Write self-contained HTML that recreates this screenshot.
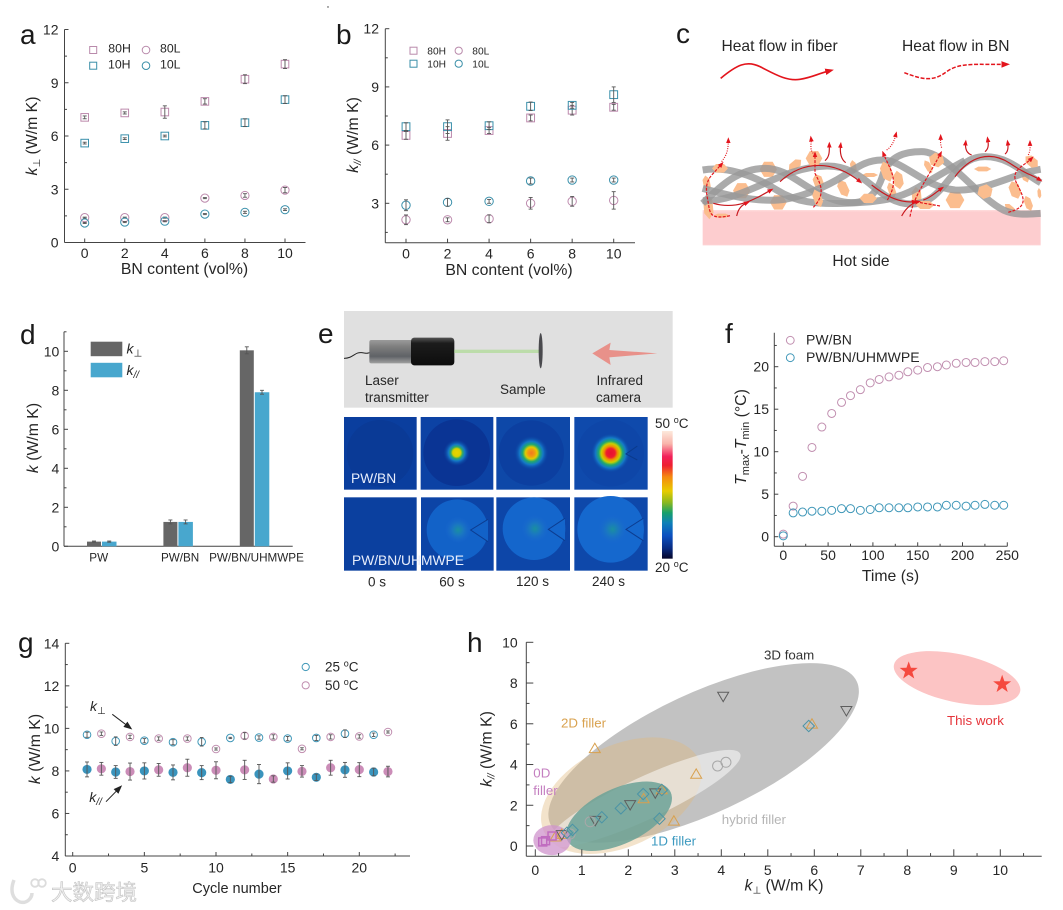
<!DOCTYPE html>
<html lang="en">
<head>
<meta charset="utf-8">
<title>Thermal conductivity composite figure</title>
<style>
html,body{margin:0;padding:0;background:#fff;}
svg{display:block;filter:blur(.35px);}
text{font-family:"Liberation Sans","DejaVu Sans","Noto Sans CJK SC",sans-serif;fill:#262626;}
.pl{font-size:28px;fill:#1a1a1a;}
.t{font-size:15.8px;}
.s{font-size:13.5px;}
.h{font-size:12px;}
</style>
</head>
<body>
<svg id="fig" xmlns="http://www.w3.org/2000/svg" width="1063" height="910" viewBox="0 0 1063 910">
<defs>
<marker id="ah" markerUnits="userSpaceOnUse" markerWidth="26" markerHeight="24" viewBox="0 0 26 24" refX="14" refY="12" orient="auto"><path d="M0 2 L26 12 L0 22 Z" fill="#e3141c"/></marker>
<marker id="ahs" markerUnits="userSpaceOnUse" markerWidth="18" markerHeight="18" viewBox="0 0 26 24" refX="14" refY="12" orient="auto"><path d="M0 2 L26 12 L0 22 Z" fill="#e3141c"/></marker>
<marker id="blk" markerUnits="userSpaceOnUse" markerWidth="9" markerHeight="8" viewBox="0 0 26 24" refX="20" refY="12" orient="auto"><path d="M0 2 L26 12 L0 22 Z" fill="#222"/></marker>
<linearGradient id="hotg" x1="0" y1="0" x2="0" y2="1"><stop offset="0" stop-color="#fdd" /><stop offset=".06" stop-color="#fdcdcf"/><stop offset=".96" stop-color="#fdcdcf"/><stop offset="1" stop-color="#fff"/></linearGradient>
<linearGradient id="cyl" x1="0" y1="0" x2="0" y2="1"><stop offset="0" stop-color="#9a9a9a"/><stop offset=".3" stop-color="#7d7d7d"/><stop offset=".7" stop-color="#5f6266"/><stop offset="1" stop-color="#a0a0a0"/></linearGradient>
<linearGradient id="blkc" x1="0" y1="0" x2="0" y2="1"><stop offset="0" stop-color="#555"/><stop offset=".2" stop-color="#1c1c1c"/><stop offset="1" stop-color="#0d0d0d"/></linearGradient>
<linearGradient id="cbar" x1="0" y1="0" x2="0" y2="1">
<stop offset="0" stop-color="#fde9dc"/><stop offset=".1" stop-color="#f9b5ab"/><stop offset=".2" stop-color="#f2205a"/><stop offset=".27" stop-color="#ee2030"/><stop offset=".36" stop-color="#f58a10"/><stop offset=".47" stop-color="#e8cc00"/><stop offset=".56" stop-color="#8ab820"/><stop offset=".64" stop-color="#18a06a"/><stop offset=".72" stop-color="#0f80b8"/><stop offset=".82" stop-color="#0c50c0"/><stop offset=".92" stop-color="#082a80"/><stop offset="1" stop-color="#050528"/>
</linearGradient>
<radialGradient id="sp60"><stop offset="0" stop-color="#e8d400"/><stop offset=".3" stop-color="#d8d000"/><stop offset=".44" stop-color="#30a868"/><stop offset=".62" stop-color="#1478c8"/><stop offset="1" stop-color="#0c40a0" stop-opacity="0"/></radialGradient>
<radialGradient id="sp120"><stop offset="0" stop-color="#f07820"/><stop offset=".2" stop-color="#f09a10"/><stop offset=".34" stop-color="#e0cc00"/><stop offset=".5" stop-color="#20a870"/><stop offset=".68" stop-color="#1478c8"/><stop offset="1" stop-color="#0c40a0" stop-opacity="0"/></radialGradient>
<radialGradient id="sp240"><stop offset="0" stop-color="#e81030"/><stop offset=".22" stop-color="#ee1c30"/><stop offset=".34" stop-color="#f09000"/><stop offset=".47" stop-color="#c8d000"/><stop offset=".6" stop-color="#20a870"/><stop offset=".76" stop-color="#1478c8"/><stop offset="1" stop-color="#0c40a0" stop-opacity="0"/></radialGradient>
<radialGradient id="sp2"><stop offset="0" stop-color="#1a8fa0"/><stop offset=".4" stop-color="#1a78c0"/><stop offset="1" stop-color="#1a66d0" stop-opacity="0"/></radialGradient>
<polygon id="hex" points="1,0 .5,.87 -.5,.87 -1,0 -.5,-.87 .5,-.87"/>
</defs>

<rect width="1063" height="910" fill="#fff"/>
<circle cx="328" cy="7" r=".7" fill="#333"/>

<!-- panel letters -->
<g>
<text class="pl" x="20" y="44">a</text>
<text class="pl" x="336" y="44">b</text>
<text class="pl" x="676" y="43">c</text>
<text class="pl" x="20" y="344">d</text>
<text class="pl" x="318" y="343">e</text>
<text class="pl" x="725" y="343">f</text>
<text class="pl" x="18" y="652">g</text>
<text class="pl" x="467" y="652">h</text>
</g>

<!-- panel c schematic -->
<g>
<text class="t" x="721.5" y="51" style="font-size:15.6px">Heat flow in fiber</text>
<text class="t" x="902" y="51" style="font-size:15.6px">Heat flow in BN</text>
<text class="t" x="861" y="266" text-anchor="middle" style="font-size:15.6px">Hot side</text>
<g transform="translate(670,10) scale(.33333)">
<path d="M152 205 C200 165 230 150 270 170 S350 215 390 208 S440 192 480 182" fill="none" stroke="#e3141c" stroke-width="5" marker-end="url(#ah)"/>
<path d="M703 188 C760 210 790 215 830 185 S930 165 1008 163" fill="none" stroke="#e3141c" stroke-width="4.5" stroke-dasharray="12 5" marker-end="url(#ah)"/>
<rect x="98" y="600" width="1014" height="108" fill="url(#hotg)"/>
<g fill="#fbbd8e">
<use href="#hex" transform="translate(215,542) scale(26)"/>
<use href="#hex" transform="translate(325,577) scale(25)"/>
<use href="#hex" transform="translate(855,570) scale(28)"/>
<use href="#hex" transform="translate(295,478) scale(26)"/>
<use href="#hex" transform="translate(375,465) rotate(-40) scale(24,14)"/>
<use href="#hex" transform="translate(550,470) rotate(80) scale(20,10)"/>
<use href="#hex" transform="translate(520,535) rotate(65) scale(28,16)"/>
<use href="#hex" transform="translate(445,515) rotate(70) scale(24,16)"/>
<use href="#hex" transform="translate(600,495) scale(24,7)"/>
<use href="#hex" transform="translate(685,510) rotate(80) scale(28,16)"/>
<use href="#hex" transform="translate(665,540) rotate(70) scale(24,12)"/>
<use href="#hex" transform="translate(740,560) rotate(85) scale(30,16)"/>
<use href="#hex" transform="translate(775,470) rotate(60) scale(22,10)"/>
<use href="#hex" transform="translate(938,477) scale(26,8)"/>
<use href="#hex" transform="translate(1065,495) rotate(70) scale(24,12)"/>
<use href="#hex" transform="translate(1075,580) rotate(70) scale(24,12)"/>
<use href="#hex" transform="translate(1020,595) rotate(40) scale(20,10)"/>
<use href="#hex" transform="translate(115,590) rotate(85) scale(38,16)"/>
<use href="#hex" transform="translate(110,520) rotate(80) scale(24,12)"/>
<use href="#hex" transform="translate(155,617) scale(24,7)"/>
<use href="#hex" transform="translate(1108,550) rotate(85) scale(16,6)"/>
</g>
<g fill="none" stroke="#999" stroke-width="21" stroke-opacity=".82">
<path d="M98 572 C220 578 330 470 470 468 C590 466 620 582 725 582 C830 582 840 440 945 440 C1020 440 1060 490 1112 518"/>
<path d="M98 480 C170 468 250 495 320 540 C380 578 440 582 515 580 C610 578 680 570 740 535 C800 500 850 470 885 452"/>
<path d="M98 535 C170 555 250 575 325 570 C390 565 470 530 525 495 C570 465 600 448 640 450 C700 452 760 530 855 540 C950 545 1030 490 1112 478"/>
<path d="M98 580 C140 540 200 475 285 475 C360 475 400 540 495 570 C580 595 620 560 640 490 C660 440 700 425 755 425 C830 425 920 560 1000 600 C1040 618 1080 612 1112 610"/>
</g>
<g fill="#fbbd8e">
<use href="#hex" transform="translate(432,445) scale(25)"/>
<use href="#hex" transform="translate(800,450) rotate(20) scale(24,22)"/>
<use href="#hex" transform="translate(945,545) rotate(-20) scale(24,22)"/>
<use href="#hex" transform="translate(1035,540) rotate(70) scale(28,18)"/>
<use href="#hex" transform="translate(1085,455) rotate(40) scale(24,16)"/>
<use href="#hex" transform="translate(443,565) rotate(70) scale(28,14)"/>
<use href="#hex" transform="translate(595,565) scale(26,16)"/>
<use href="#hex" transform="translate(150,475) scale(24,15)"/>
<use href="#hex" transform="translate(650,485) rotate(70) scale(32,18)"/>
<use href="#hex" transform="translate(765,585) scale(28,14)"/>
</g>
<g fill="none" stroke="#c8181e" stroke-width="3.5">
<path d="M130 580 C200 600 250 570 303 540" marker-end="url(#ahs)"/>
<path d="M330 515 C400 450 490 450 570 515" marker-end="url(#ahs)"/>
<path d="M605 525 C650 560 690 580 735 575" marker-end="url(#ahs)"/>
<path d="M760 570 C780 565 800 545 815 535" marker-end="url(#ahs)"/>
<path d="M855 500 C900 440 960 420 1020 460 S1080 490 1110 510" marker-end="url(#ahs)"/>
<path d="M695 618 C710 590 730 578 745 575" marker-end="url(#ahs)"/>
<path d="M200 618 C205 595 215 585 232 578" marker-end="url(#ahs)"/>
<path d="M465 452 C480 440 478 420 478 403" marker-end="url(#ahs)"/>
<path d="M527 458 C510 445 510 420 512 404" marker-end="url(#ahs)"/>
<path d="M905 435 C890 430 885 415 887 397" marker-end="url(#ahs)"/>
<path d="M945 425 C958 415 955 400 953 387" marker-end="url(#ahs)"/>
<path d="M1005 432 C1015 425 1015 410 1013 397" marker-end="url(#ahs)"/>
</g>
<g fill="none" stroke="#e3141c" stroke-width="3.5" stroke-dasharray="9 4">
<path d="M180 617 C120 630 120 610 115 580 S100 520 130 490 L155 462" marker-end="url(#ahs)"/>
<path d="M430 592 C470 550 450 520 435 490 L435 432" marker-end="url(#ahs)"/>
<path d="M652 570 C690 510 660 480 640 430" marker-end="url(#ahs)"/>
<path d="M810 588 L735 575"/>
<path d="M720 620 C730 560 770 510 812 430" marker-end="url(#ahs)"/>
<path d="M1015 607 C1080 590 1060 560 1040 520 S1060 470 1085 445" marker-end="url(#ahs)"/>
</g>
<g fill="none" stroke="#e3141c" stroke-width="3.5" stroke-dasharray="3 4">
<path d="M155 455 C165 440 175 430 175 390" marker-end="url(#ahs)"/>
<path d="M430 430 C418 420 425 400 423 385" marker-end="url(#ahs)"/>
<path d="M650 420 C665 410 672 395 678 372" marker-end="url(#ahs)"/>
<path d="M815 413 C810 400 812 392 812 380" marker-end="url(#ahs)"/>
<path d="M1075 435 C1082 420 1080 410 1080 398" marker-end="url(#ahs)"/>
</g>
</g>
</g>

<!-- panel e thermal images -->
<g>
<g transform="translate(330,300) scale(.33333)">
<rect x="42" y="33" width="986" height="290" fill="#e0e0e0"/>
<path d="M42 175 C70 175 75 155 95 158 S110 160 120 158" fill="none" stroke="#222" stroke-width="3"/>
<rect x="118" y="120" width="130" height="70" rx="6" fill="url(#cyl)"/>
<rect x="243" y="113" width="130" height="83" rx="10" fill="url(#blkc)"/>
<rect x="373" y="149" width="255" height="10" fill="#bcdcaa"/>
<ellipse cx="632" cy="152" rx="6" ry="53" fill="#4a4a4e"/>
<polygon points="787,160 842,128 838,150 982,160 838,172 842,195" fill="#e8918a"/>

<rect x="42" y="351" width="218" height="218" fill="#0a3e9e"/>
<circle cx="150" cy="460" r="100" fill="#0a3a96"/>
<rect x="272" y="351" width="218" height="218" fill="#0c42a4"/>
<circle cx="380" cy="458" r="100" fill="#0a3494"/>
<circle cx="380" cy="458" r="40" fill="url(#sp60)"/>
<rect x="499" y="351" width="221" height="218" fill="#0e48a8"/>
<circle cx="604" cy="459" r="98" fill="#0c3fa0"/>
<circle cx="604" cy="459" r="52" fill="url(#sp120)"/>
<rect x="733" y="351" width="220" height="218" fill="#0f4aac"/>
<circle cx="842" cy="459" r="100" fill="#0e46a8"/>
<circle cx="842" cy="459" r="60" fill="url(#sp240)"/>
<path d="M922 438 L888 462 L922 480" fill="none" stroke="#0a3a8c" stroke-width="3"/>

<rect x="42" y="592" width="218" height="220" fill="#0b409f"/>
<rect x="273" y="592" width="218" height="220" fill="#0c44a6"/>
<circle cx="382" cy="690" r="92" fill="#1262c8"/>
<circle cx="384" cy="690" r="40" fill="url(#sp2)"/>
<path d="M474 658 L422 690 L474 725" fill="#1262c8" stroke="#0c3c90" stroke-width="3"/>
<rect x="499" y="592" width="221" height="220" fill="#0d46a8"/>
<circle cx="612" cy="686" r="94" fill="#1466cc"/>
<circle cx="615" cy="686" r="42" fill="url(#sp2)"/>
<path d="M705 655 L655 688 L705 722" fill="#1466cc" stroke="#0c3c90" stroke-width="3"/>
<rect x="733" y="592" width="220" height="220" fill="#0e48aa"/>
<circle cx="842" cy="688" r="100" fill="#1568ce"/>
<circle cx="848" cy="688" r="45" fill="url(#sp2)"/>
<path d="M940 655 L888 688 L940 722" fill="#1568ce" stroke="#0c3c90" stroke-width="3"/>

<rect x="996" y="393" width="32" height="383" fill="url(#cbar)"/>
</g>
<text class="s" x="365" y="385">Laser</text>
<text class="s" x="365" y="402">transmitter</text>
<text class="s" x="500" y="394">Sample</text>
<text class="s" x="596.5" y="385">Infrared</text>
<text class="s" x="596" y="402">camera</text>
<text x="351" y="483" style="font-size:13.8px;fill:#e8eefc">PW/BN</text>
<text x="352" y="565" style="font-size:13.8px;fill:#e8eefc">PW/BN/UHMWPE</text>
<text x="377" y="586.5" text-anchor="middle" style="font-size:13.5px">0 s</text>
<text x="452" y="586.5" text-anchor="middle" style="font-size:13.5px">60 s</text>
<text x="532.5" y="586" text-anchor="middle" style="font-size:13.5px">120 s</text>
<text x="608.5" y="586" text-anchor="middle" style="font-size:13.5px">240 s</text>
<text x="655" y="428" style="font-size:13.5px">50 <tspan dy="-5" font-size="9">o</tspan><tspan dy="5">C</tspan></text>
<text x="655" y="572" style="font-size:13.5px">20 <tspan dy="-5" font-size="9">o</tspan><tspan dy="5">C</tspan></text>
</g>

<!-- chart layers populated by script -->
<g id="chart-a"></g>
<g id="chart-b"></g>
<g id="chart-d"></g>
<g id="chart-f"></g>
<g id="chart-g"></g>
<g id="chart-h"></g>

<!-- titles and static labels -->
<g>
<text class="t" x="184.5" y="274" text-anchor="middle">BN content (vol%)</text>
<text class="t" transform="translate(37,136) rotate(-90)" text-anchor="middle"><tspan font-style="italic">k</tspan><tspan dy="3" font-size="10">⊥</tspan><tspan dy="-3"> (W/m K)</tspan></text>
<text class="t" x="509" y="275" text-anchor="middle">BN content (vol%)</text>
<text class="t" transform="translate(358,135) rotate(-90)" text-anchor="middle"><tspan font-style="italic">k</tspan><tspan dy="3" font-size="10" font-style="italic">//</tspan><tspan dy="-3"> (W/m K)</tspan></text>
<text class="t" transform="translate(38,438) rotate(-90)" text-anchor="middle"><tspan font-style="italic">k</tspan> (W/m K)</text>
<text class="t" x="890.5" y="581" text-anchor="middle">Time (s)</text>
<text class="t" transform="translate(746,437) rotate(-90)" text-anchor="middle"><tspan font-style="italic">T</tspan><tspan dy="3" font-size="11">max</tspan><tspan dy="-3">-</tspan><tspan font-style="italic">T</tspan><tspan dy="3" font-size="11">min</tspan><tspan dy="-3"> (°C)</tspan></text>
<text class="t" x="237" y="893" text-anchor="middle" style="font-size:14.5px">Cycle number</text>
<text class="t" transform="translate(40,749) rotate(-90)" text-anchor="middle"><tspan font-style="italic">k</tspan> (W/m K)</text>
<text class="t" x="784" y="890.7" text-anchor="middle"><tspan font-style="italic">k</tspan><tspan dy="3" font-size="10">⊥</tspan><tspan dy="-3"> (W/m K)</tspan></text>
<text class="t" transform="translate(491.7,749) rotate(-90)" text-anchor="middle"><tspan font-style="italic">k</tspan><tspan dy="3" font-size="10" font-style="italic">//</tspan><tspan dy="-3"> (W/m K)</tspan></text>
</g>

<g style="font-size:12.5px">
<rect x="89.7" y="46.5" width="7" height="7" fill="none" stroke="#b98aab" stroke-width="1"/>
<rect x="89.7" y="62.2" width="7" height="7" fill="none" stroke="#3a8fa8" stroke-width="1"/>
<circle cx="146" cy="50" r="3.8" fill="none" stroke="#b98aab"/>
<circle cx="146" cy="65.7" r="3.8" fill="none" stroke="#3a8fa8"/>
<text x="108.3" y="52.5" style="font-size:12.3px">80H</text>
<text x="108" y="68.5" style="font-size:12.3px">10H</text>
<text x="160" y="52.5" style="font-size:12.3px">80L</text>
<text x="160" y="68.5" style="font-size:12.3px">10L</text>
</g>
<g>
<rect x="410" y="47.2" width="7" height="7" fill="none" stroke="#b98aab"/>
<rect x="410" y="60.2" width="7" height="7" fill="none" stroke="#3a8fa8"/>
<circle cx="458.7" cy="50.7" r="3.6" fill="none" stroke="#b98aab"/>
<circle cx="458.7" cy="63.7" r="3.6" fill="none" stroke="#3a8fa8"/>
<text x="427.3" y="54.3" style="font-size:10.2px">80H</text>
<text x="427.3" y="67.3" style="font-size:10.2px">10H</text>
<text x="472.3" y="54.3" style="font-size:10.2px">80L</text>
<text x="472.3" y="67.3" style="font-size:10.2px">10L</text>
</g>
<g>
<rect x="90.7" y="341.7" width="31.6" height="14.5" fill="#666"/>
<rect x="90.7" y="362.8" width="31.6" height="14.5" fill="#48a7ce"/>
<text x="126.5" y="353.5" style="font-size:14px"><tspan font-style="italic">k</tspan><tspan dy="3" font-size="10">⊥</tspan></text>
<text x="126.5" y="375" style="font-size:14px"><tspan font-style="italic">k</tspan><tspan dy="3" font-size="10" font-style="italic">//</tspan></text>
</g>
<g>
<circle cx="790.3" cy="340.3" r="3.9" fill="none" stroke="#c18fb0"/>
<circle cx="790.3" cy="357.7" r="3.9" fill="none" stroke="#3f97b8"/>
<text x="806" y="344.5" style="font-size:14px">PW/BN</text>
<text x="806" y="362" style="font-size:14px">PW/BN/UHMWPE</text>
</g>
<g>
<circle cx="305.7" cy="667" r="3.6" fill="none" stroke="#3f97b8"/>
<circle cx="305.7" cy="685.3" r="3.6" fill="none" stroke="#c18fb0"/>
<text x="325" y="671.5" style="font-size:13.5px">25 <tspan dy="-5" font-size="9">o</tspan><tspan dy="5">C</tspan></text>
<text x="325" y="690" style="font-size:13.5px">50 <tspan dy="-5" font-size="9">o</tspan><tspan dy="5">C</tspan></text>
</g>
<g>
<text x="90" y="711" style="font-size:14px"><tspan font-style="italic">k</tspan><tspan dy="3" font-size="10">⊥</tspan></text>
<line x1="112.3" y1="714.3" x2="130.7" y2="728.3" stroke="#222" stroke-width="1" marker-end="url(#blk)"/>
<text x="89.3" y="802" style="font-size:14px"><tspan font-style="italic">k</tspan><tspan dy="3" font-size="10" font-style="italic">//</tspan></text>
<line x1="106" y1="801.7" x2="120.7" y2="786.7" stroke="#222" stroke-width="1" marker-end="url(#blk)"/>
</g>
<g>
<circle cx="35" cy="883" r="3.8" fill="none" stroke="#dcdcdc" stroke-width="1.8"/>
<circle cx="42" cy="883" r="3.8" fill="none" stroke="#dcdcdc" stroke-width="1.8"/>
<path d="M14 880 C10 890 12 899 20 902 C27 904 32 898 32 893" fill="none" stroke="#dedede" stroke-width="3.5"/>
<text x="51" y="900" style="font-size:21.5px;font-family:'Noto Sans CJK SC','WenQuanYi Zen Hei',sans-serif;fill:#f0f0f0;stroke:#c4c4c4;stroke-width:.6px">大数跨境</text>
</g>
</svg>

<script>
// ---------- Panel a data ----------
const aCategories = [0, 2, 4, 6, 8, 10];
const aXTicks = [0, 2, 4, 6, 8, 10];
const aYTicks = [0, 3, 6, 9, 12];
const a80H = [7.05, 7.3, 7.35, 7.95, 9.2, 10.05];
const a80HErr = [0.08, 0.06, 0.35, 0.15, 0.25, 0.25];
const a10H = [5.6, 5.85, 6.0, 6.6, 6.75, 8.05];
const a10HErr = [0.05, 0.05, 0.05, 0.2, 0.22, 0.22];
const a80L = [1.4, 1.4, 1.4, 2.5, 2.65, 2.95];
const a80LErr = [0.03, 0.03, 0.03, 0.03, 0.1, 0.15];
const a10L = [1.1, 1.15, 1.2, 1.6, 1.7, 1.85];
const a10LErr = [0.03, 0.03, 0.03, 0.03, 0.06, 0.05];

// ---------- Panel b data ----------
const bCategories = [0, 2, 4, 6, 8, 10];
const bXTicks = [0, 2, 4, 6, 8, 10];
const bYTicks = [3, 6, 9, 12];
const b80H = [6.5, 6.6, 6.75, 7.4, 7.8, 7.95];
const b80HErr = [0.2, 0.35, 0.15, 0.15, 0.25, 0.15];
const b10H = [6.95, 6.95, 7.0, 8.0, 8.05, 8.6];
const b10HErr = [0.2, 0.35, 0.2, 0.22, 0.15, 0.4];
const b80L = [2.15, 2.15, 2.2, 3.0, 3.1, 3.15];
const b80LErr = [0.25, 0.1, 0.2, 0.3, 0.25, 0.45];
const b10L = [2.9, 3.05, 3.1, 4.15, 4.2, 4.2];
const b10LErr = [0.28, 0.2, 0.1, 0.15, 0.1, 0.1];

// ---------- Panel d data ----------
const dCategories = ['PW', 'PW/BN', 'PW/BN/UHMWPE'];
const dYTicks = [0, 2, 4, 6, 8, 10];
const dPerp = [0.24, 1.25, 10.05];
const dPerpErr = [0.03, 0.1, 0.18];
const dPara = [0.24, 1.25, 7.9];
const dParaErr = [0.03, 0.1, 0.1];

// ---------- Panel f data ----------
const fTime = [0, 11, 21.5, 32, 43, 54, 65, 75, 86, 97, 107, 118, 129, 139, 150, 161, 172, 182, 193, 204, 214, 225, 236, 246];
const fXTicks = [0, 50, 100, 150, 200, 250];
const fYTicks = [0, 5, 10, 15, 20];
const fPwBn = [0.3, 3.6, 7.1, 10.5, 12.9, 14.5, 15.8, 16.6, 17.3, 18.1, 18.5, 18.8, 19.0, 19.4, 19.6, 19.9, 20.0, 20.2, 20.4, 20.5, 20.5, 20.6, 20.6, 20.7];
const fUhmwpe = [0.1, 2.8, 2.9, 3.0, 3.0, 3.1, 3.3, 3.3, 3.1, 3.2, 3.4, 3.4, 3.4, 3.4, 3.5, 3.5, 3.5, 3.7, 3.7, 3.6, 3.7, 3.8, 3.7, 3.7];

// ---------- Panel g data ----------
const gCycles = [1, 2, 3, 4, 5, 6, 7, 8, 9, 10, 11, 12, 13, 14, 15, 16, 17, 18, 19, 20, 21, 22];
const gXTicks = [0, 5, 10, 15, 20];
const gYTicks = [4, 6, 8, 10, 12, 14];
const gPerp = [9.7, 9.75, 9.4, 9.6, 9.42, 9.52, 9.35, 9.52, 9.37, 9.03, 9.55, 9.65, 9.57, 9.6, 9.52, 9.04, 9.55, 9.6, 9.75, 9.62, 9.7, 9.83];
const gPerpErr = [0.12, 0.08, 0.2, 0.08, 0.1, 0.08, 0.12, 0.08, 0.2, 0.05, 0.03, 0.15, 0.08, 0.1, 0.1, 0.05, 0.12, 0.1, 0.18, 0.08, 0.08, 0.05];
const gPara = [8.07, 8.1, 7.95, 7.97, 8.0, 8.05, 7.93, 8.15, 7.92, 8.03, 7.6, 8.05, 7.85, 7.62, 8.0, 7.98, 7.7, 8.15, 8.05, 8.06, 7.95, 7.97];
const gParaErr = [0.35, 0.3, 0.3, 0.4, 0.38, 0.3, 0.35, 0.4, 0.33, 0.4, 0.15, 0.45, 0.45, 0.15, 0.38, 0.27, 0.15, 0.35, 0.35, 0.33, 0.18, 0.25];

// ---------- Panel h data ----------
const hXTicks = [0, 1, 2, 3, 4, 5, 6, 7, 8, 9, 10];
const hYTicks = [0, 2, 4, 6, 8, 10];
const hTriUpX = [1.28, 3.46, 2.98, 2.33, 2.72, 0.43, 0.57, 5.95];
const hTriUpY = [4.8, 3.54, 1.24, 2.34, 2.78, 0.46, 0.59, 6.0];
const hTriDownX = [4.04, 6.69, 2.04, 1.29, 2.58, 0.57];
const hTriDownY = [7.33, 6.63, 2.01, 1.24, 2.59, 0.54];
const hDiamondX = [5.88, 0.8, 1.43, 1.84, 2.32, 2.72, 2.67, 0.68];
const hDiamondY = [5.89, 0.79, 1.41, 1.85, 2.55, 2.75, 1.34, 0.65];
const hCircleX = [3.92, 4.1, 1.18, 0.75];
const hCircleY = [3.93, 4.11, 1.19, 0.59];
const hSquareX = [0.16, 0.22, 0.36];
const hSquareY = [0.2, 0.26, 0.49];
const hStarX = [8.03, 10.04];
const hStarY = [8.6, 7.94];

// ---------- helpers ----------
const NS = 'http://www.w3.org/2000/svg';
const PINK = '#bd8aad';
const BLUE = '#3a90ab';
const AXIS = '#444';

function linear(d0, d1, r0, r1) {
  return function (v) { return r0 + (v - d0) * (r1 - r0) / (d1 - d0); };
}
function node(parent, tag, name, props) {
  const el = document.createElementNS(NS, tag);
  
  
  for (const k in props) el.setAttribute(k, props[k]);
  parent.appendChild(el);
  return el;
}
function line(p, name, x1, y1, x2, y2, color, w) {
  return node(p, 'line', name, { x1: x1, y1: y1, x2: x2, y2: y2, stroke: color, 'stroke-width': w });
}
function label(p, name, x, y, txt, size, anchor) {
  const t = node(p, 'text', name, { x: x, y: y, 'text-anchor': anchor });
  t.setAttribute('style', 'font-size:' + size + 'px');
  t.textContent = txt;
  return t;
}
// Axis frame with inward ticks
function axes(g, c) {
  const maj = c.major || 4, min = c.minor || 2.5;
  line(g, 'x-axis-line', c.left, c.bottom, c.right, c.bottom, AXIS, 1);
  line(g, 'y-axis-line', c.left, c.top, c.left, c.bottom, AXIS, 1);
  (c.xTicks || []).forEach(function (v) {
    line(g, 'x-tick', c.x(v), c.bottom, c.x(v), c.bottom - maj, AXIS, 1);
    label(g, 'x-tick-label', c.x(v), c.xLabelY, String(v), c.size, 'middle');
  });
  (c.xMinor || []).forEach(function (v) {
    line(g, 'x-minor-tick', c.x(v), c.bottom, c.x(v), c.bottom - min, AXIS, 1);
  });
  c.yTicks.forEach(function (v) {
    line(g, 'y-tick', c.left, c.y(v), c.left + maj, c.y(v), AXIS, 1);
    label(g, 'y-tick-label', c.yLabelX, c.y(v) + 5, String(v), c.size, 'end');
  });
  (c.yMinor || []).forEach(function (v) {
    line(g, 'y-minor-tick', c.left, c.y(v), c.left + min, c.y(v), AXIS, 1);
  });
}
function midpoints(ticks) {
  const out = [];
  for (let i = 0; i + 1 < ticks.length; i++) out.push((ticks[i] + ticks[i + 1]) / 2);
  return out;
}
function errorBar(g, px, y, v, e, cap) {
  const top = y(v + e), bot = y(v - e);
  line(g, 'error-bar', px, top, px, bot, '#555', 0.9);
  line(g, 'error-cap', px - cap, top, px + cap, top, '#555', 0.9);
  line(g, 'error-cap', px - cap, bot, px + cap, bot, '#555', 0.9);
}
function square(g, name, px, py, s, color, sw) {
  node(g, 'rect', name, { x: px - s / 2, y: py - s / 2, width: s, height: s, fill: 'none', stroke: color, 'stroke-width': sw || 1 });
}
function circle(g, name, px, py, r, color, fill) {
  node(g, 'circle', name, { cx: px, cy: py, r: r, fill: fill || 'none', stroke: color, 'stroke-width': 1 });
}
function seriesErr(g, name, xs, vals, errs, x, y, shape, color, size) {
  vals.forEach(function (v, i) {
    const px = x(xs[i]), py = y(v);
    if (shape === 'square') square(g, name, px, py, size, color);
    else circle(g, name, px, py, size / 2, color);
    errorBar(g, px, y, v, errs[i], 2);
  });
}
function polyPoints(g, name, xs, ys, x, y, verts, stroke, fill, sw) {
  xs.forEach(function (vx, i) {
    const px = x(vx), py = y(ys[i]);
    const pts = verts.map(function (o) { return (px + o[0]) + ',' + (py + o[1]); }).join(' ');
    node(g, 'polygon', name, { points: pts, fill: fill, stroke: stroke, 'stroke-width': sw });
  });
}

// ---------- Panel a ----------
(function () {
  const g = document.getElementById('chart-a');
  const x = linear(0, 10, 84.7, 285);
  const y = linear(0, 12, 242.5, 29.5);
  axes(g, { left: 64.5, right: 305.5, top: 29.5, bottom: 242.5, x: x, y: y,
    xTicks: aXTicks, yTicks: aYTicks, yMinor: midpoints(aYTicks), xLabelY: 258, yLabelX: 58.5, size: 14 });
  seriesErr(g, 'point-80h', aCategories, a80H, a80HErr, x, y, 'square', PINK, 7.6);
  seriesErr(g, 'point-10h', aCategories, a10H, a10HErr, x, y, 'square', BLUE, 7.6);
  seriesErr(g, 'point-80l', aCategories, a80L, a80LErr, x, y, 'circle', PINK, 8.2);
  seriesErr(g, 'point-10l', aCategories, a10L, a10LErr, x, y, 'circle', BLUE, 8.2);
})();

// ---------- Panel b ----------
(function () {
  const g = document.getElementById('chart-b');
  const x = linear(0, 10, 406, 613.7);
  const y = linear(3, 12, 203.3, 28.7);
  axes(g, { left: 385.3, right: 635, top: 28.7, bottom: 242.7, x: x, y: y,
    xTicks: bXTicks, yTicks: bYTicks, yMinor: [1.5].concat(midpoints(bYTicks)), xLabelY: 258.5, yLabelX: 379, size: 14 });
  seriesErr(g, 'point-80h', bCategories, b80H, b80HErr, x, y, 'square', PINK, 7.8);
  seriesErr(g, 'point-10h', bCategories, b10H, b10HErr, x, y, 'square', BLUE, 7.8);
  seriesErr(g, 'point-80l', bCategories, b80L, b80LErr, x, y, 'circle', PINK, 8.4);
  seriesErr(g, 'point-10l', bCategories, b10L, b10LErr, x, y, 'circle', BLUE, 8.4);
})();

// ---------- Panel d ----------
(function () {
  const g = document.getElementById('chart-d');
  const band = linear(0, 2, 101.5, 254.3);
  const y = linear(0, 10, 546.3, 351.3);
  axes(g, { left: 64, right: 292.7, top: 331.7, bottom: 546.3, x: band, y: y,
    yTicks: dYTicks, yMinor: midpoints(dYTicks).concat([11]), yLabelX: 59.3, size: 14 });
  dCategories.forEach(function (name, i) {
    const c = band(i);
    node(g, 'rect', 'bar-perp', { x: c - 14.5, y: y(dPerp[i]), width: 14, height: y(0) - y(dPerp[i]), fill: '#666' });
    node(g, 'rect', 'bar-para', { x: c + 0.5, y: y(dPara[i]), width: 14.5, height: y(0) - y(dPara[i]), fill: '#48a7ce' });
    errorBar(g, c - 7.5, y, dPerp[i], dPerpErr[i], 2);
    errorBar(g, c + 7.7, y, dPara[i], dParaErr[i], 2);
    label(g, 'bar-category-label', c + (i === 0 ? -2.8 : 2.2), 561.5, name, 11.7, 'middle');
  });
})();

// ---------- Panel f ----------
(function () {
  const g = document.getElementById('chart-f');
  const x = linear(0, 250, 783.3, 1007.3);
  const y = linear(0, 20, 536.7, 366.7);
  axes(g, { left: 774.3, right: 1007.3, top: 332.7, bottom: 546.3, x: x, y: y,
    xTicks: fXTicks, xMinor: midpoints(fXTicks), yTicks: fYTicks, yMinor: midpoints(fYTicks).concat([22.5]), xLabelY: 560, yLabelX: 769, size: 14 });
  fTime.forEach(function (t, i) {
    circle(g, 'point-pwbn', x(t), y(fPwBn[i]), 4, '#c18fb0');
  });
  fTime.forEach(function (t, i) {
    circle(g, 'point-uhmwpe', x(t), y(fUhmwpe[i]), 4, '#3f97b8');
  });
})();

// ---------- Panel g ----------
(function () {
  const g = document.getElementById('chart-g');
  const x = linear(0, 20, 72.7, 359.3);
  const y = linear(4, 14, 856, 643.3);
  axes(g, { left: 65.3, right: 410, top: 643.3, bottom: 856, x: x, y: y,
    xTicks: gXTicks, xMinor: midpoints(gXTicks).concat([22.5]), yTicks: gYTicks, yMinor: midpoints(gYTicks), xLabelY: 872.5, yLabelX: 59.3, size: 14 });
  gCycles.forEach(function (c, i) {
    const color = i % 2 === 0 ? '#3f97b8' : '#c18fb0';
    const solid = i % 2 === 0 ? '#3a94bd' : '#cb8db8';
    circle(g, 'point-perp', x(c), y(gPerp[i]), 3.8, color);
    errorBar(g, x(c), y, gPerp[i], gPerpErr[i], 1.8);
    circle(g, 'point-para', x(c), y(gPara[i]), 4.1, solid, solid);
    errorBar(g, x(c), y, gPara[i], gParaErr[i], 2);
  });
})();

// ---------- Panel h ----------
(function () {
  const g = document.getElementById('chart-h');
  const x = linear(0, 10, 535.3, 1000.3);
  const y = linear(0, 10, 846, 642.3);
  function ell(name, kx, ky, a, b, rot, fill, extra) {
    const e = node(g, 'ellipse', name, { cx: 0, cy: 0, rx: a, ry: b, fill: fill,
      transform: 'translate(' + x(kx) + ',' + y(ky) + ') rotate(' + rot + ')' });
    if (extra) e.setAttribute('style', extra);
  }
  ell('region-3d-foam', 3.62, 4.57, 169, 60, -25, '#c2c2c2');
  ell('region-2d-filler', 1.85, 2.47, 85.4, 50.5, -25, 'rgb(225,185,125)', 'opacity:.4');
  ell('region-hybrid-filler', 2.34, 2.33, 106, 21, -25, '#ffffff', 'opacity:.5');
  ell('region-1d-filler', 1.8, 1.46, 57, 27.6, -25, '#6ba296', 'opacity:.85');
  ell('region-0d-filler', 0.36, 0.29, 18.7, 15, 0, '#cf93cc', 'opacity:.75');
  ell('region-this-work', 9.07, 8.24, 64.5, 24, 12, '#fcc4c4');
  axes(g, { left: 526.3, right: 1041.7, top: 642.3, bottom: 856.3, x: x, y: y, major: 7, minor: 3.2,
    xTicks: hXTicks, xMinor: midpoints(hXTicks).concat([10.5]), yTicks: hYTicks, yMinor: midpoints(hYTicks), xLabelY: 875, yLabelX: 517.7, size: 14 });
  const up = [[0, -5], [5.5, 4.4], [-5.5, 4.4]];
  const down = [[0, 5], [5.5, -4.4], [-5.5, -4.4]];
  const diamond = [[0, -5.7], [5.7, 0], [0, 5.7], [-5.7, 0]];
  const star = [[0, -9.5], [2.23, -3.07], [9.03, -2.94], [3.61, 1.17], [5.58, 7.69], [0, 3.8], [-5.58, 7.69], [-3.61, 1.17], [-9.03, -2.94], [-2.23, -3.07]];
  polyPoints(g, 'point-triangle-up', hTriUpX, hTriUpY, x, y, up, '#d8a04e', 'none', 1);
  polyPoints(g, 'point-triangle-down', hTriDownX, hTriDownY, x, y, down, '#5e5e5e', 'none', 1);
  hCircleX.forEach(function (vx, i) {
    circle(g, 'point-circle', x(vx), y(hCircleY[i]), 5, '#a8a8a8');
  });
  polyPoints(g, 'point-diamond', hDiamondX, hDiamondY, x, y, diamond, '#4a93a6', 'none', 1);
  hSquareX.forEach(function (vx, i) {
    square(g, 'point-square', x(vx), y(hSquareY[i]), 8, '#c06cc0', 1.5);
  });
  polyPoints(g, 'point-star', hStarX, hStarY, x, y, star, 'none', '#f5493f', 0);
  function note(name, px, py, txt, color) {
    const t = label(g, name, px, py, txt, 13.3, 'start');
    t.setAttribute('style', 'font-size:13.3px;fill:' + color);
  }
  note('label-3d-foam', 764, 659.3, '3D foam', '#333');
  note('label-2d-filler', 561, 727.3, '2D filler', '#d9a24f');
  note('label-0d', 533.3, 777.3, '0D', '#c47fc0');
  note('label-0d-filler', 533.3, 795, 'filler', '#c47fc0');
  note('label-hybrid-filler', 721.7, 824, 'hybrid filler', '#b5b5b5');
  note('label-1d-filler', 651, 845.7, '1D filler', '#3d9ac0');
  note('label-this-work', 947, 725, 'This work', '#e5343a');
})();
</script>
</body>
</html>
